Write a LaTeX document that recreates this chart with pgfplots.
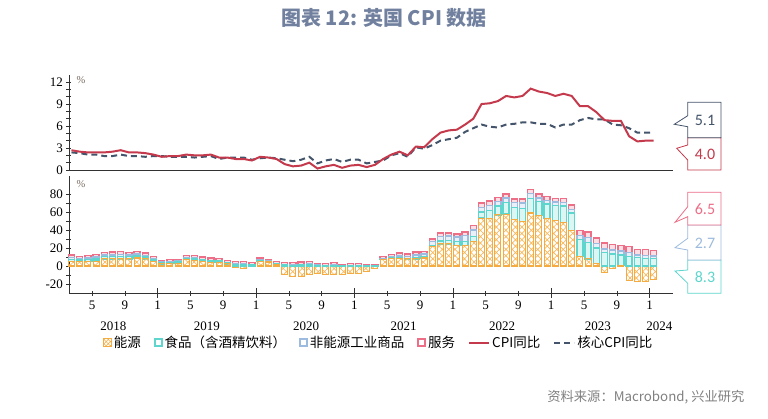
\documentclass[border=0pt]{standalone}
\usepackage{pgfplots}
\pgfplotsset{compat=1.18}
\usepackage{pgfplotstable}
\usetikzlibrary{patterns.meta}
\usepackage{fontspec}
\setmainfont{Liberation Serif}
\newfontfamily\cjk{Noto Sans CJK SC}
\newfontfamily\calfont{Carlito}

\definecolor{cpired}{RGB}{196,58,76}
\definecolor{coreblue}{RGB}{68,84,106}
\definecolor{eorange}{RGB}{244,172,66}
\definecolor{fcyan}{RGB}{94,214,205}
\definecolor{glblue}{RGB}{157,187,222}
\definecolor{spink}{RGB}{236,110,135}
\definecolor{titlecol}{RGB}{112,128,158}
\definecolor{axcol}{RGB}{50,50,50}
\definecolor{pctcol}{RGB}{120,105,95}

\pgfplotstableread{
x cpi core
1.5 2.7 2.4
2.5 2.5 2.3
3.5 2.4 2.1
4.5 2.4 2.1
5.5 2.4 1.9
6.5 2.5 1.9
7.5 2.7 2.1
8.5 2.4 1.9
9.5 2.4 1.9
10.5 2.3 1.8
11.5 2.1 1.9
12.5 1.8 1.9
13.5 1.9 1.8
14.5 1.9 1.8
15.5 2.1 1.8
16.5 2.0 1.7
17.5 2.0 1.8
18.5 2.1 1.9
19.5 1.7 1.5
20.5 1.7 1.7
21.5 1.5 1.7
22.5 1.5 1.7
23.5 1.3 1.4
24.5 1.8 1.6
25.5 1.7 1.7
26.5 1.5 1.6
27.5 0.8 1.4
28.5 0.5 1.2
29.5 0.6 1.4
30.5 1.0 1.8
31.5 0.2 0.9
32.5 0.5 1.3
33.5 0.7 1.5
34.5 0.3 1.1
35.5 0.6 1.4
36.5 0.7 1.4
37.5 0.4 0.9
38.5 0.7 1.1
39.5 1.5 1.3
40.5 2.1 2.0
41.5 2.5 2.3
42.5 2.0 1.8
43.5 3.2 3.1
44.5 3.1 2.9
45.5 4.2 3.4
46.5 5.1 4.0
47.5 5.4 4.2
48.5 5.5 4.4
49.5 6.2 5.2
50.5 7.0 5.7
51.5 9.0 6.2
52.5 9.1 5.9
53.5 9.4 5.8
54.5 10.1 6.2
55.5 9.9 6.3
56.5 10.1 6.5
57.5 11.1 6.5
58.5 10.7 6.3
59.5 10.5 6.3
60.5 10.1 5.8
61.5 10.4 6.2
62.5 10.1 6.2
63.5 8.7 6.8
64.5 8.7 7.1
65.5 7.9 6.9
66.5 6.8 6.9
67.5 6.7 6.2
68.5 6.7 6.1
69.5 4.6 5.7
70.5 3.9 5.1
71.5 4.0 5.1
72.5 4.0 5.1
}\linedata

\pgfplotstableread{
x epos eneg food goods serv
1.5 5.0 0 2.5 2.0 3.0
2.5 5.0 0 1.8 1.2 2.4
3.5 5.0 0 2.3 1.8 2.9
4.5 5.5 0 2.5 2.0 3.0
5.5 8.0 0 2.4 1.8 2.8
6.5 8.0 0 2.5 2.0 3.0
7.5 8.0 0 2.6 2.2 3.2
8.5 8.0 0 2.3 1.9 2.8
9.5 9.0 0 2.3 1.9 2.8
10.5 8.0 0 2.2 1.6 2.7
11.5 5.5 0 1.6 1.0 2.4
12.5 2.5 0 1.3 0.6 2.1
13.5 2.8 0 1.4 0.7 2.1
14.5 3.2 0 1.5 0.7 2.1
15.5 7.4 0 1.3 0.8 2.5
16.5 6.6 0 1.6 1.0 2.8
17.5 5.0 0 1.8 0.7 2.5
18.5 4.3 0 1.6 0.6 2.5
19.5 4.4 0 1.5 0.4 2.2
20.5 2.5 0 1.1 0.4 2.0
21.5 0 -2.0 1.6 0.8 2.6
22.5 0 -2.3 1.6 0.8 2.6
23.5 0 -0.5 1.4 0.4 2.2
24.5 5.0 0 1.0 0.6 2.4
25.5 4.5 0 0.8 0.4 1.8
26.5 1.5 0 1.0 0.6 1.9
27.5 0 -9.5 1.0 0.2 2.5
28.5 0 -12.0 0.9 0.2 2.6
29.5 0 -12.0 1.0 0.5 2.9
30.5 0 -9.0 1.2 0.9 2.9
31.5 0 -8.5 0.6 0.4 1.6
32.5 0 -9.0 0.4 0.5 1.7
33.5 0 -9.0 0.4 1.2 2.1
34.5 0 -9.0 0.1 0.2 1.5
35.5 0 -8.0 0.2 0.4 2.0
36.5 0 -8.5 0.1 0.2 2.3
37.5 0 -6.0 0.1 0.1 0.8
38.5 0 -3.0 0.1 0.2 1.2
39.5 7.4 0 0.1 0.8 2.0
40.5 8.8 0 0.3 1.7 2.2
41.5 8.8 0 0.5 2.0 3.1
42.5 8.0 0 0.2 2.5 2.9
43.5 8.0 0 0.9 3.2 3.4
44.5 9.0 0 1.6 2.8 2.6
45.5 21.5 0 1.6 3.9 3.0
46.5 24.7 0 3.0 5.0 4.1
47.5 24.7 0 4.0 4.8 3.3
48.5 23.0 0 4.0 5.2 3.5
49.5 23.0 0 4.6 6.2 4.2
50.5 27.6 0 5.6 6.8 5.0
51.5 53.4 0 6.8 5.2 4.6
52.5 53.0 0 8.7 6.0 4.9
53.5 57.0 0 9.8 5.2 4.6
54.5 57.8 0 12.7 5.3 4.2
55.5 52.0 0 13.1 5.4 4.3
56.5 49.7 0 14.6 5.9 4.6
57.5 59.0 0 16.4 5.4 4.2
58.5 56.0 0 16.0 3.8 4.2
59.5 52.7 0 16.5 3.9 4.6
60.5 51.0 0 16.7 3.8 4.0
61.5 48.6 0 18.2 4.2 4.5
62.5 39.8 0 19.1 3.9 5.2
63.5 10.7 0 19.0 4.6 5.5
64.5 8.0 0 18.4 5.6 6.0
65.5 2.6 0 17.3 5.0 6.4
66.5 0 -7.4 14.8 4.3 6.7
67.5 0 -2.6 13.6 4.2 6.2
68.5 0.3 0 12.1 4.3 6.0
69.5 0 -15.8 10.9 4.5 6.3
70.5 0 -17.3 9.2 3.0 6.2
71.5 0 -17.7 8.3 3.7 6.4
72.5 0 -14.7 8.3 2.7 6.5
}\bardata

\pgfplotsset{
  common/.style={
    scale only axis, width=604pt,
    xmin=1.195, xmax=74.85,
    clip=false,
    /pgf/number format/assume math mode=true,
    tick label style={font=\fontsize{13}{14}\selectfont, color=black},
    tick style={color=axcol, line width=0.6pt},
    tick align=outside,
    major tick length=5pt, minor tick length=5pt,
  },
  ebar/.style={draw=eorange, line width=1.1pt,
    pattern={Hatch[angle=45,distance=4.5pt,line width=0.7pt]}, pattern color=eorange!85},
  wbar/.style={draw=#1, fill=#1!22, line width=1.4pt},
}

\newcommand{\callout}[9]{%
  \draw[#1, line width=0.8pt, fill=white] (#2,#4) -- (#3,#4) -- (#3,#5) -- (#2,#5) -- (#2,#8) -- (#6,#7) -- (#2,#9) -- cycle;%
}

\begin{document}
\begin{tikzpicture}
\useasboundingbox (0,0) rectangle (768pt,418pt);

% top panel
\begin{axis}[common,
  at={(69pt,248pt)}, anchor=south west, height=95.3pt,
  ymin=0, ymax=13,
  axis lines=left, axis line style={-, color=axcol, line width=0.8pt},
  xtick=\empty, ytick={0,3,6,9,12}, minor y tick num=2,
]
\addplot[coreblue, line width=2pt, dash pattern=on 6pt off 4pt] table[x=x,y=core] {\linedata};
\addplot[cpired, line width=2pt] table[x=x,y=cpi] {\linedata};
\end{axis}

% bottom panel: negative energy (overlay)
\begin{axis}[common,
  at={(69pt,125pt)}, anchor=south west, height=116.8pt,
  ymin=-30, ymax=100, hide axis,
  ybar, bar width=6pt,
]
\addplot[ebar] table[x=x,y=eneg] {\bardata};
\end{axis}

% bottom panel: stacked bars
\begin{axis}[common,
  at={(69pt,125pt)}, anchor=south west, height=116.8pt,
  ymin=-30, ymax=100,
  axis lines=left, axis line style={-, color=axcol, line width=0.8pt},
  ybar stacked, bar width=6pt,
  xtick={4,8,...,72},
  xticklabels={5,9,1,5,9,1,5,9,1,5,9,1,5,9,1,5,9,1},
  extra x ticks={12,24,36,48,60,72}, extra x tick labels={},
  extra x tick style={major tick length=10pt},
  x tick label style={yshift=-2pt},
  ytick={-20,0,20,40,60,80}, minor y tick num=1,
  legend columns=6,
  legend style={at={(0.513,-0.425)}, anchor=center, draw=none, fill=none,
    font=\cjk\fontsize{13.5}{15}\selectfont, inner sep=1pt,
    /tikz/every even column/.append style={column sep=11pt}},
  legend cell align=left,
]
\addplot[ebar, legend image code/.code={\draw[eorange, line width=1.2pt, pattern={Hatch[angle=45,distance=3pt,line width=0.5pt]}, pattern color=eorange] (0pt,-4pt) rectangle (8pt,4pt);}] table[x=x,y=epos] {\bardata};
\addlegendentry{能源}
\addplot[wbar=fcyan, legend image code/.code={\draw[fcyan, line width=1.8pt, fill=white] (0pt,-3.5pt) rectangle (7pt,3.5pt);}] table[x=x,y=food] {\bardata};
\addlegendentry{食品（含酒精饮料）}
\addplot[wbar=glblue, legend image code/.code={\draw[glblue, line width=1.8pt, fill=white] (0pt,-3.5pt) rectangle (7pt,3.5pt);}] table[x=x,y=goods] {\bardata};
\addlegendentry{非能源工业商品}
\addplot[wbar=spink, legend image code/.code={\draw[spink, line width=1.8pt, fill=white] (0pt,-3.5pt) rectangle (7pt,3.5pt);}] table[x=x,y=serv] {\bardata};
\addlegendentry{服务}
\addlegendimage{legend image code/.code={\draw[cpired, line width=2pt] (0pt,0pt) -- (20pt,0pt);}}
\addlegendentry{CPI同比}
\addlegendimage{legend image code/.code={\draw[coreblue, line width=2pt, dash pattern=on 6pt off 4pt] (0pt,0pt) -- (20pt,0pt);}}
\addlegendentry{核心CPI同比}

\node[font=\fontsize{13}{14}\selectfont] at (axis cs:6.6,-30) [yshift=-33pt] {2018};
\node[font=\fontsize{13}{14}\selectfont] at (axis cs:18.0,-30) [yshift=-33pt] {2019};
\node[font=\fontsize{13}{14}\selectfont] at (axis cs:30.1,-30) [yshift=-33pt] {2020};
\node[font=\fontsize{13}{14}\selectfont] at (axis cs:42.0,-30) [yshift=-33pt] {2021};
\node[font=\fontsize{13}{14}\selectfont] at (axis cs:54.0,-30) [yshift=-33pt] {2022};
\node[font=\fontsize{13}{14}\selectfont] at (axis cs:65.7,-30) [yshift=-33pt] {2023};
\node[font=\fontsize{13}{14}\selectfont] at (axis cs:73.2,-30) [yshift=-33pt] {2024};
\end{axis}

\begin{scope}[shift={(0pt,418pt)}, x=1pt, y=-1pt]
  \node[font=\fontsize{10.5}{11}\selectfont, color=pctcol, anchor=west] at (73,80) {\%};
  \node[font=\fontsize{10.5}{11}\selectfont, color=pctcol, anchor=west] at (73,184) {\%};

  % callouts top
  \callout{cpired}{687.7}{721}{137.7}{170}{676.7}{148.3}{160}{145}
  \callout{coreblue}{687.7}{721}{102.3}{137.7}{674.3}{124.3}{126.7}{115.7}
  \node[font=\calfont\fontsize{16}{18}\selectfont, color=coreblue] at (705,120) {5.1};
  \node[font=\calfont\fontsize{16}{18}\selectfont, color=cpired] at (705,154) {4.0};
  % callouts bottom
  \callout{fcyan}{687.7}{721}{260}{293.3}{675}{271}{283.3}{270}
  \callout{glblue}{687.7}{721}{225}{260}{675}{247.7}{250}{238.3}
  \callout{spink}{687.7}{721}{192.3}{225}{675}{222.3}{216.7}{206.7}
  \node[font=\calfont\fontsize{16}{18}\selectfont, color=spink] at (705,209) {6.5};
  \node[font=\calfont\fontsize{16}{18}\selectfont, color=glblue] at (705,243) {2.7};
  \node[font=\calfont\fontsize{16}{18}\selectfont, color=fcyan] at (705,277) {8.3};

  \node[font=\cjk\bfseries\fontsize{20}{22}\selectfont, color=titlecol] at (384,18) {图表 12: 英国 CPI 数据};
  \node[font=\cjk\fontsize{13.3}{15}\selectfont, color=black!50, anchor=east] at (748,397) {资料来源：Macrobond, 兴业研究};
\end{scope}
\end{tikzpicture}
\end{document}
